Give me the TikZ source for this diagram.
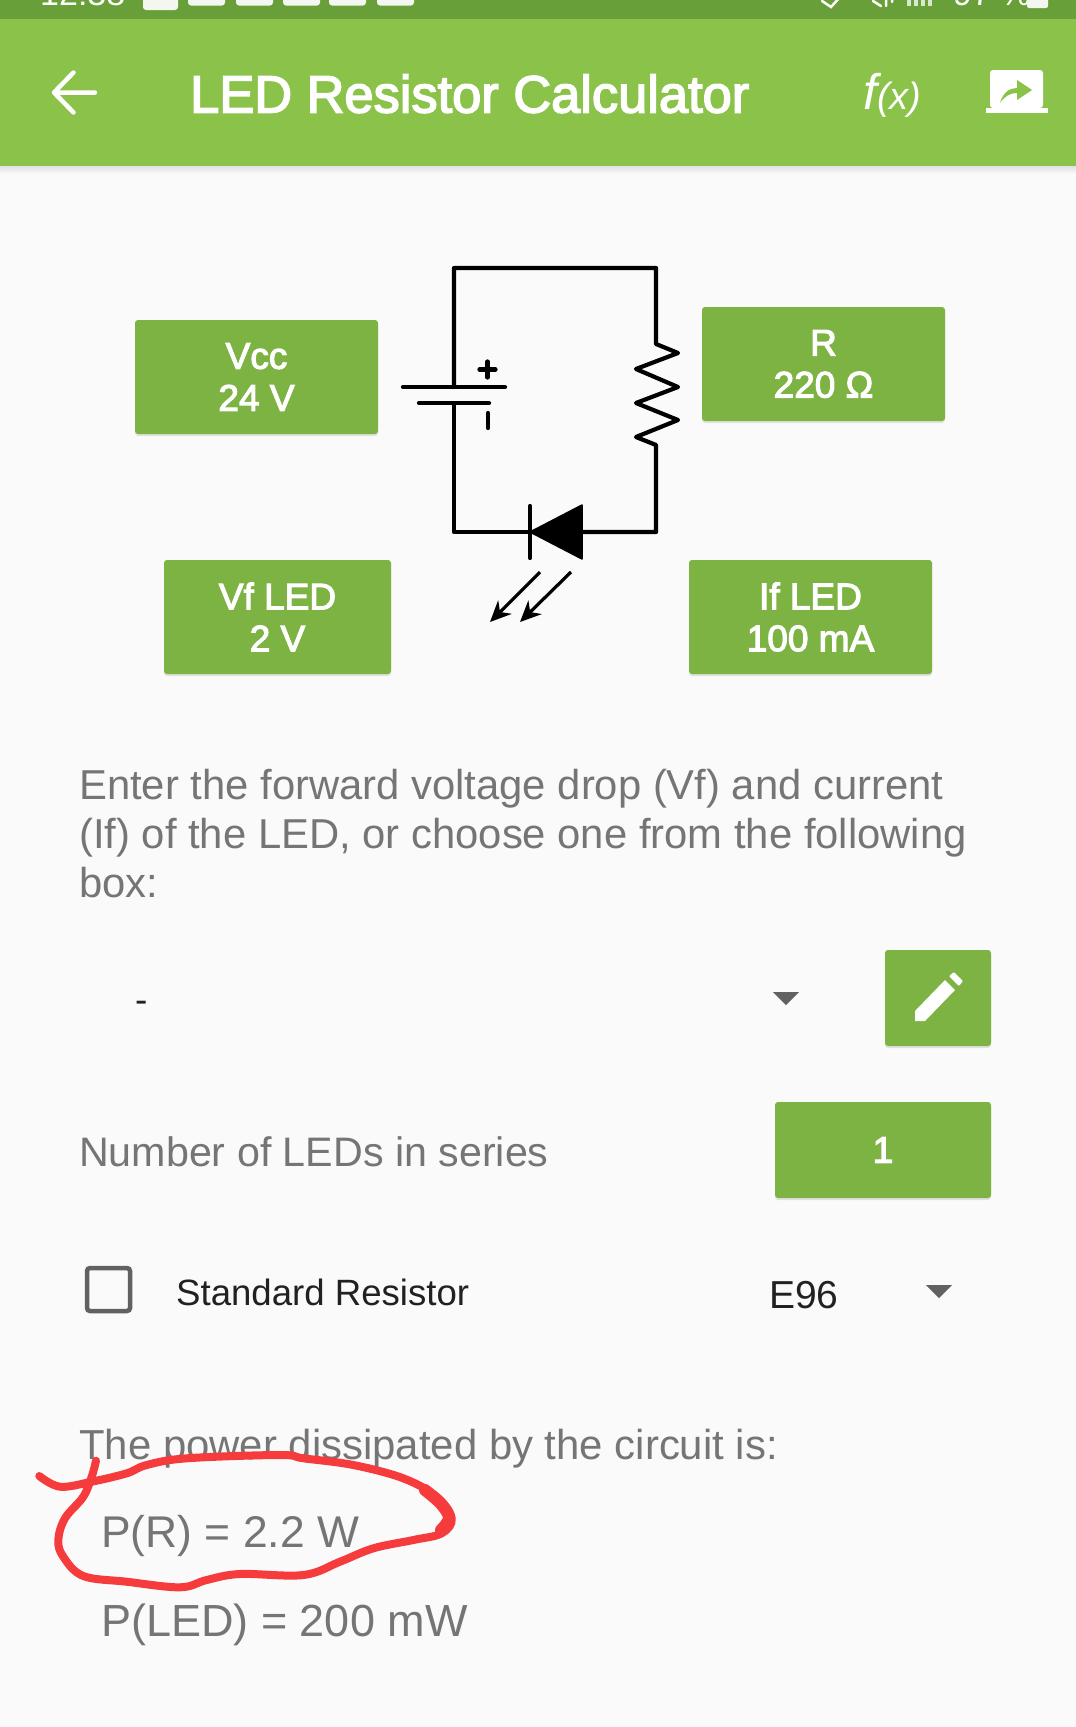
\documentclass[tikz,border=0pt]{standalone}
\usepackage{fontspec}
\usetikzlibrary{arrows.meta,shadows}
\setmainfont{Liberation Sans}
\newfontfamily\medfont[FakeBold=3]{Liberation Sans}
\definecolor{barDark}{HTML}{689F38}
\definecolor{barLight}{HTML}{8BC34A}
\definecolor{btnGreen}{HTML}{7CB342}
\definecolor{pageGrey}{HTML}{FAFAFA}
\definecolor{textGrey}{HTML}{757575}
\definecolor{textDark}{HTML}{212121}
\definecolor{iconGrey}{HTML}{616161}
\definecolor{penRed}{HTML}{F53B3B}
\tikzset{
  btn/.style={fill=btnGreen, rounded corners=3pt, text=white, align=center, inner sep=0pt,
    font=\medfont\fontsize{37}{42}\selectfont,
    drop shadow={shadow xshift=0pt, shadow yshift=-2pt, opacity=.2}},
  wire/.style={line width=4.2pt, line join=round, line cap=round},
  led arrow/.style={line width=3.2pt, -{Stealth[length=21pt,width=19pt]}},
  body/.style={anchor=base west, inner sep=0pt, text=textGrey, font=\fontsize{41.8}{49}\selectfont},
  bartext/.style={anchor=base west, inner sep=0pt, text=white},
  caret/.style={fill=iconGrey, draw=none},
}
\begin{document}
\begin{tikzpicture}[x=1pt,y=-1pt]
  \useasboundingbox (0,0) rectangle (1076,1727);
  \clip (0,0) rectangle (1076,1727);
  \fill[pageGrey] (0,0) rectangle (1076,1727);
  % app bar
  \fill[barDark] (0,0) rectangle (1076,19);
  \shade[top color=black!12, bottom color=pageGrey] (0,166) rectangle (1076,174);
  \fill[barLight] (0,19) rectangle (1076,166);
  \node[bartext, font=\fontsize{34}{34}\selectfont] (clock) at (40,5) {12:38};
  \fill[white!92!barDark, rounded corners=3pt] (143,-8) rectangle (178,10);
  \foreach \x in {188,236,283,329,377}
    \fill[white!92!barDark, rounded corners=3pt] (\x,-8) rectangle +(37,13.5);
  \node[bartext, font=\fontsize{34}{34}\selectfont] (battery) at (953,5.5) {97 \%};
  \fill[white!92!barDark, rounded corners=2pt] (1027,-8) rectangle (1048,8);
  \foreach \x in {907,914,921,928}
    \fill[white!75!barDark] (\x,-2) rectangle +(4,8);
  \draw[white, line width=2.5pt, line cap=round] (822,1) -- (831,7) -- (840,-3);
  \draw[white, line width=2.5pt, line cap=round] (873,1) -- (881,6) (886,-3) -- (886,6) (892,-3) -- (892,2);
  \draw[wire, white, line width=4.5pt] (95,92.5) -- (54,92.5) (73.5,72.5) -- (54,92.5) -- (73.5,112.5);
  \node[bartext, font=\medfont\fontsize{52.4}{52}\selectfont] (title) at (190,112.5) {LED Resistor Calculator};
  \node[bartext, font=\fontsize{50}{50}\selectfont\itshape] (fx) at (863,109) {f\fontsize{38}{38}\selectfont(x)};
  \fill[white, rounded corners=3pt] (990,70) rectangle (1043,108);
  \fill[white] (986,107.5) rectangle (1048,113);
  \fill[barLight] (1000,103) .. controls (1003,92) and (1010,88) .. (1017,88) -- (1017,80) -- (1032,90) -- (1017,100) -- (1017,93) .. controls (1010,93) and (1005,96) .. (1000,103) -- cycle;
  % value boxes
  \node[btn, minimum width=243pt, minimum height=114pt] (vcc) at (256.5,377) {Vcc\\24 V};
  \node[btn, minimum width=243pt, minimum height=114pt] (res) at (823.5,364) {R\\220 Ω};
  \node[btn, minimum width=227pt, minimum height=114pt] (vf) at (277.5,617) {Vf LED\\2 V};
  \node[btn, minimum width=243pt, minimum height=114pt] (if) at (810.5,617) {If LED\\100 mA};
  % circuit
  \coordinate (tl) at (454,268);
  \coordinate (tr) at (656,268);
  \coordinate (bl) at (454,532);
  \coordinate (br) at (656,532);
  \coordinate (plateA) at (454,387);
  \coordinate (plateB) at (454,403);
  \coordinate (resTop) at (656,344);
  \coordinate (resBot) at (656,445);
  \coordinate (ledK) at (530,532);
  \coordinate (ledA) at (582,532);
  \draw[wire] (plateA) -- (tl) -- (tr) -- (resTop) -- (678,353) -- (636,369) -- (678,387) -- (636,403) -- (678,420) -- (636,437) -- (resBot) -- (br) -- (ledA);
  \draw[wire] (plateB) -- (bl) -- (ledK);
  \draw[wire] (403,387) -- (505,387);
  \draw[wire] (419,403) -- (489,403);
  \draw[wire] (479.5,369.5) -- (495.5,369.5) (487.5,361.5) -- (487.5,377.5);
  \draw[wire] (488,413) -- (488,428);
  \draw[wire] (530,506) -- (530,558);
  \fill[black, draw=black, line width=1.5pt, line join=round] (ledK) -- (582,505) -- (582,559) -- cycle;
  \coordinate (rayA) at (540,572);
  \coordinate (rayB) at (571,572);
  \coordinate (rayAend) at (490,622);
  \coordinate (rayBend) at (520,622);
  \draw[led arrow] (rayA) -- (rayAend);
  \draw[led arrow] (rayB) -- (rayBend);
  % text
  \node[body] (hintA) at (79,799) {Enter the forward voltage drop (Vf) and current};
  \node[body] (hintB) at (79,848) {(If) of the LED, or choose one from the following};
  \node[body] (hintC) at (79,897) {box:};
  \node[anchor=base west, inner sep=0pt, text=textDark, font=\fontsize{37}{37}\selectfont] (dash) at (135,1012) {-};
  \fill[caret] (773,992) -- (799,992) -- (786,1005) -- cycle;
  \node[btn, minimum width=106pt, minimum height=96pt] (edit) at (938,998) {};
  \fill[white] (915,1021) -- (915,1011) -- (945,980) -- (955,990) -- (925,1021) -- cycle;
  \fill[white, rounded corners=1pt] (949,976) -- (954,972) -- (963,981) -- (959,986) -- cycle;
  \node[body, font=\fontsize{41.2}{49}\selectfont] (num) at (79,1166) {Number of LEDs in series};
  \node[btn, minimum width=216pt, minimum height=96pt] (count) at (883,1150) {1};
  \draw[iconGrey, line width=4.5pt, rounded corners=3pt] (87,1268) rectangle (130,1311);
  \node[body, text=textDark, font=\fontsize{36.6}{37}\selectfont] (std) at (176,1305) {Standard Resistor};
  \node[body, text=textDark, font=\fontsize{39}{39}\selectfont] (e96) at (769,1308) {E96};
  \fill[caret] (926,1285) -- (952,1285) -- (939,1298) -- cycle;
  \node[body, font=\fontsize{41.9}{49}\selectfont] (power) at (79,1459) {The power dissipated by the circuit is:};
  \node[body, font=\fontsize{44.4}{45}\selectfont] (pr) at (101,1547) {P(R) = 2.2 W};
  \node[body, font=\fontsize{45}{45}\selectfont] (pled) at (101,1636) {P(LED) = 200 mW};
  % pen mark
  \draw[penRed, line width=8pt, line cap=round, line join=round] plot[smooth, tension=.6] coordinates {(39.3,1476) (60,1486.7) (91.7,1481.7) (126.7,1473.3) (146.7,1465) (186.7,1458.3) (280,1455) (303.3,1458.3) (353.3,1465) (403.3,1478.3) (436.7,1496.7) (451.7,1518.3) (441.7,1533.3) (413.3,1540) (373.3,1548.3) (340,1561.7) (303.3,1575) (240,1574) (206.7,1580) (180,1587.3) (126.7,1581.7) (83.3,1576) (63.3,1556.7) (58.3,1540) (65,1518.3) (83.3,1496.7) (91.7,1476.7) (96,1460.7)};
  \draw[penRed, line width=12pt, line cap=round] plot[smooth, tension=.6] coordinates {(425,1490) (441,1504) (449,1518) (441,1530)};
\end{tikzpicture}
\end{document}
